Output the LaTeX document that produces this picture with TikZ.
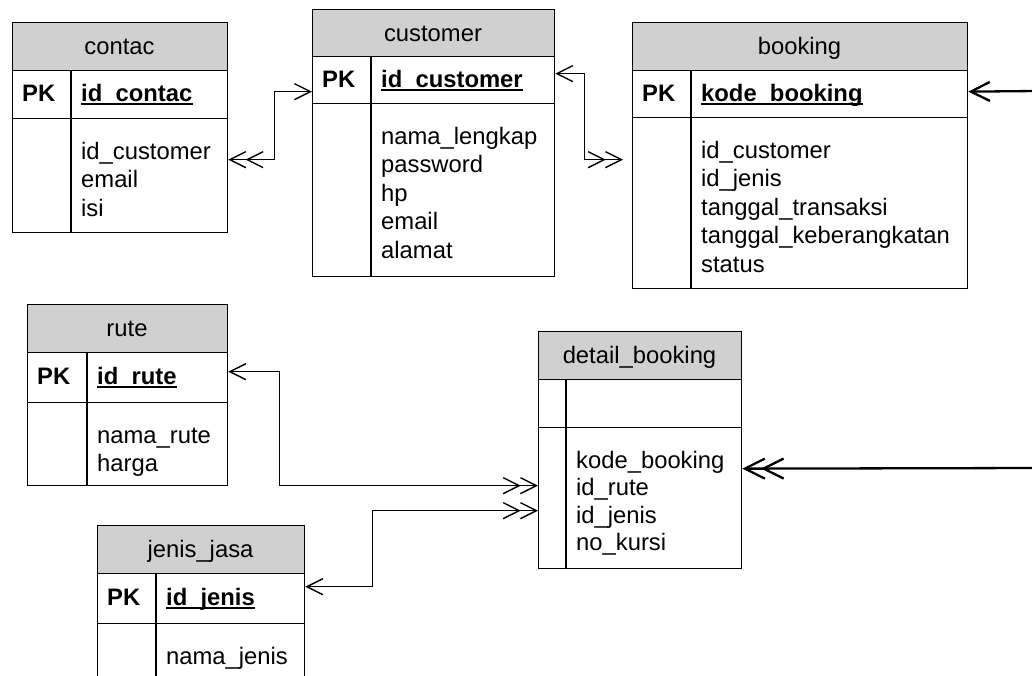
\documentclass[tikz,border=0pt]{standalone}
\usepackage{fontspec}
\setmainfont{Liberation Sans}
\usetikzlibrary{arrows.meta,calc}
\definecolor{hdrgray}{RGB}{208,208,208}
\tikzset{
  tbl/.style={draw=black, line width=1.3pt},
  hdr/.style={tbl, fill=hdrgray, inner sep=0pt},
  row/.style={tbl, inner sep=0pt},
  txt/.style={inner sep=0pt, font=\fontsize{23.8}{28}\selectfont},
  pktxt/.style={inner sep=0pt, font=\fontsize{23.8}{28}\selectfont\bfseries},
  conn/.style={line width=1.4pt},
  ext/.style={line width=2.3pt},
  erone/.tip={Straight Barb[length=16pt,width=16pt]},
  ermany/.tip={Straight Barb[length=16pt,width=16pt,sep=-1pt] Straight Barb[length=16pt,width=16pt]},
  erbigone/.tip={Straight Barb[length=19pt,width=19pt]},
  erbigmany/.tip={Straight Barb[length=20pt,width=20pt,sep=-5pt] Straight Barb[length=20pt,width=20pt]},
}
% #1 name #2 L #3 T #4 R #5 H #6 P #7 B #8 D #9 title
\newcommand\ertable[9]{%
  \node[hdr, anchor=north west, minimum width={#4-#2}, minimum height={#5-#3}] (#1-h) at (#2,#3) {};
  \node[row, anchor=north west, minimum width={#4-#2}, minimum height={#6-#5}] (#1-pk) at (#2,#5) {};
  \node[row, anchor=north west, minimum width={#4-#2}, minimum height={#7-#6}] (#1-body) at (#2,#6) {};
  \draw[tbl] (#8,#5) -- (#8,#7);
  \node[txt, anchor=base] (#1-t) at ({(#2+#4)/2},{(#3+#5)/2+8.5}) {#9};
}
% #1 name #2 L #3 D #4 H #5 P #6 key text
\newcommand\erkey[6]{%
  \node[pktxt, anchor=base west] (#1-k) at ({#2+10},{(#4+#5)/2+7.5}) {PK};
  \node[pktxt, anchor=base west] (#1-id) at ({#3+10},{(#4+#5)/2+7.5}) {#6};
  \draw[line width=1.8pt] ([yshift=-2.8pt]#1-id.base west) -- ([yshift=-2.8pt]#1-id.base east);
}
% #1 name #2 D #3 P #4 pitch #5 list
\newcommand\erfields[5]{%
  \foreach \ftxt [count=\fidx] in {#5} {%
    \node[txt, anchor=base west] (#1-a\fidx) at ({#2+10},{#3+41+(\fidx-1)*#4}) {\ftxt};
  }%
}
\begin{document}
\begin{tikzpicture}[x=1pt,y=-1pt]
\useasboundingbox (0,0) rectangle (1032,675);
\clip (0,0) rectangle (1032,675);

\ertable{contac}{12}{22}{227}{70}{118}{232}{71}{contac}
\erkey{contac}{12}{71}{70}{118}{id\_contac}
\erfields{contac}{71}{118}{28.5}{id\_customer,email,isi}

\ertable{customer}{312}{9}{554}{56}{103}{276}{371}{customer}
\erkey{customer}{312}{371}{56}{103}{id\_customer}
\erfields{customer}{371}{103}{28.5}{nama\_lengkap,password,hp,email,alamat}

\ertable{booking}{632}{22}{967}{70}{117}{288}{691}{booking}
\erkey{booking}{632}{691}{70}{117}{kode\_booking}
\erfields{booking}{691}{117}{28.5}{id\_customer,id\_jenis,tanggal\_transaksi,tanggal\_keberangkatan,status}

\ertable{rute}{27}{304}{227}{352}{402}{485}{87}{rute}
\erkey{rute}{27}{87}{352}{402}{id\_rute}
\erfields{rute}{87}{402}{28.5}{nama\_rute,harga}

\ertable{jenis}{97}{525}{304}{573}{623}{705}{156}{jenis\_jasa}
\erkey{jenis}{97}{156}{573}{623}{id\_jenis}
\erfields{jenis}{156}{623}{28.5}{nama\_jenis}

\ertable{detail}{538}{331}{741}{379}{427}{568}{566}{detail\_booking}
\erfields{detail}{566}{427}{27.5}{kode\_booking,id\_rute,id\_jenis,no\_kursi}

% connectors
\draw[conn, ermany-erone] ($(contac-body.east)+(0,-16)$) -- ++(46,0) |- ($(customer-pk.west)+(0,11.5)$);
\draw[conn, erone-ermany] ($(customer-pk.east)+(0,-6.5)$) -- ++(29,0) |- ($(booking-body.west)+(-9,-43.5)$);
\coordinate (bkin) at (1036,91);
\draw[ext, -erbigone] (bkin) -- ($(booking-pk.east)+(0,-2.5)$);
\coordinate (dbin) at (1036,468);
\draw[ext, -erbigmany] (dbin) -- ($(detail-body.east)+(0,-29.5)$);
\draw[conn, erone-ermany] ($(rute-pk.east)+(0,-6)$) -- ++(51,0) |- ($(detail-body.west)+(0,-12.5)$);
\draw[conn, erone-ermany] ($(jenis-pk.east)+(0,-12)$) -- ++(67,0) |- ($(detail-body.west)+(0,12.5)$);
\end{tikzpicture}
\end{document}
